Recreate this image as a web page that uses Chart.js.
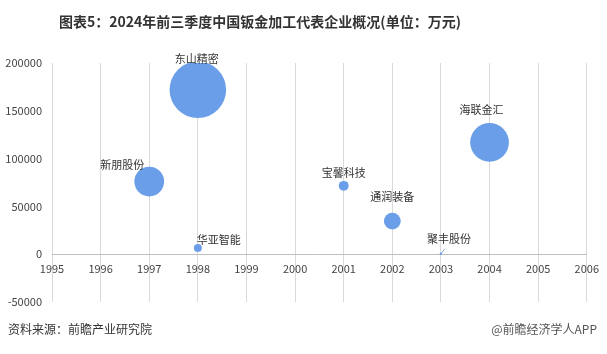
<!DOCTYPE html>
<html>
<head>
<meta charset="utf-8">
<script src="https://cdn.jsdelivr.net/npm/chart.js@4"></script>
<style>
  body { margin: 0; background: #fff; }
  canvas { display: block; }
</style>
</head>
<body>
<canvas id="chart" width="607" height="354"></canvas>
<script>
// bubble data: x = year, y = value (万元), size = bubble weight
const companies = ['东山精密', '新朋股份', '华亚智能', '宝馨科技', '通润装备', '聚丰股份', '海联金汇'];
const years = [1998, 1997, 1998, 2001, 2002, 2003, 2004];
const values = [172000, 76000, 6600, 71500, 34600, 500, 117000];
const sizes = [2436000, 675000, 48000, 75000, 216000, 4000, 1140000];
const yTicks = [-50000, 0, 50000, 100000, 150000, 200000];

const title = '图表5：2024年前三季度中国钣金加工代表企业概况(单位：万元)';
const source = '资料来源：前瞻产业研究院';
const brand = '@前瞻经济学人APP';

const FONT = '"Noto Sans CJK SC", "Noto Sans", sans-serif';
const MAX_R = 28.3;
const maxSize = Math.max(...sizes);

// where each label sits relative to its bubble centre
const labelOffsets = [[-1, -31], [-27, -17], [21, -8], [0, -13], [0, -24], [8, -15], [-8, -33]];

const points = companies.map((name, i) => ({
  x: years[i],
  y: values[i],
  r: Math.max(1.2, MAX_R * Math.sqrt(sizes[i] / maxSize))
}));

const textPlugin = {
  id: 'texts',
  beforeDraw(chart) {
    const ctx = chart.ctx;
    ctx.save();
    ctx.fillStyle = '#fff';
    ctx.fillRect(0, 0, chart.width, chart.height);
    ctx.restore();
  },
  afterDatasetsDraw(chart) {
    const ctx = chart.ctx;
    const meta = chart.getDatasetMeta(0);
    ctx.save();
    ctx.font = '11px ' + FONT;
    ctx.fillStyle = '#333';
    ctx.textAlign = 'center';
    ctx.textBaseline = 'middle';
    meta.data.forEach((el, i) => {
      const [dx, dy] = labelOffsets[i];
      ctx.fillText(companies[i], el.x + dx, el.y + dy);
      if (companies[i] === '聚丰股份') {
        ctx.strokeStyle = '#8eaadb';
        ctx.lineWidth = 1;
        ctx.beginPath();
        ctx.moveTo(el.x, el.y);
        ctx.lineTo(el.x + 4, el.y - 5);
        ctx.stroke();
      }
    });
    ctx.restore();
  },
  afterDraw(chart) {
    const ctx = chart.ctx;
    ctx.save();
    ctx.fillStyle = '#333';
    ctx.font = 'bold 14px ' + FONT;
    ctx.textAlign = 'center';
    ctx.textBaseline = 'middle';
    ctx.fillText(title, 260, 22);
    ctx.font = '12px ' + FONT;
    ctx.textAlign = 'left';
    ctx.fillText(source, 8, 329);
    ctx.fillStyle = '#555';
    ctx.textAlign = 'right';
    ctx.fillText(brand, 597, 329);
    ctx.restore();
  }
};

new Chart(document.getElementById('chart'), {
  type: 'bubble',
  data: {
    datasets: [{
      data: points,
      backgroundColor: '#6a9ee8',
      borderColor: '#6a9ee8',
      borderWidth: 0
    }]
  },
  options: {
    responsive: false,
    animation: false,
    events: [],
    layout: { autoPadding: false, padding: { left: 0, right: 19, top: 63, bottom: 52 } },
    plugins: {
      legend: { display: false },
      tooltip: { enabled: false }
    },
    scales: {
      x: {
        type: 'linear',
        position: { y: 0 },
        min: 1995,
        max: 2006,
        ticks: {
          stepSize: 1,
          padding: 8,
          color: '#444',
          font: { size: 11, family: FONT },
          callback: v => String(v)
        },
        grid: { color: '#d9d9d9', drawTicks: false },
        border: { color: '#bfbfbf', width: 1 }
      },
      y: {
        min: -50000,
        max: 200000,
        afterBuildTicks: axis => { axis.ticks = yTicks.map(v => ({ value: v })); },
        afterFit: axis => { axis.width = 52; },
        ticks: {
          padding: 10,
          color: '#444',
          font: { size: 11, family: FONT },
          callback: v => String(v)
        },
        grid: { display: false, drawTicks: false },
        border: { display: false }
      }
    }
  },
  plugins: [textPlugin]
});
</script>
</body>
</html>
